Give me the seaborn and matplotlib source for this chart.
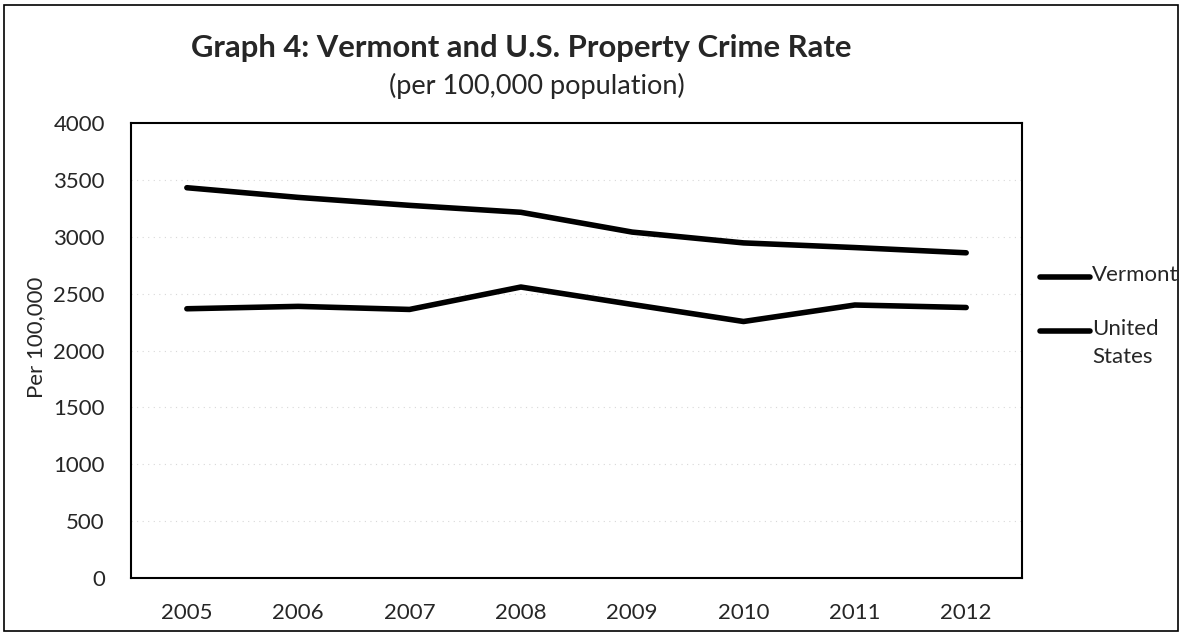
import pandas as pd
import matplotlib.pyplot as plt
import seaborn as sns
from matplotlib.patches import Rectangle

years = [2005, 2006, 2007, 2008, 2009, 2010, 2011, 2012]
vermont = [2367, 2388, 2361, 2558, 2405, 2255, 2400, 2378]
united_states = [3431, 3346, 3276, 3215, 3041, 2946, 2905, 2859]
series_names = ['Vermont', 'United\nStates']

df = pd.DataFrame({
    'year': years * 2,
    'rate': vermont + united_states,
    'series': [series_names[0]] * len(years) + [series_names[1]] * len(years),
})

sns.set_style('white')
plt.rcParams['font.family'] = ['Lato', 'DejaVu Sans']

fig = plt.figure(figsize=(11.82, 6.34), dpi=100)
ax = fig.add_axes([0.111, 0.0883, 0.7535, 0.7177])

# faint scan-like gridlines
for v in range(500, 4000, 500):
    ax.axhline(v, color='#d8d8d8', lw=0.8, ls=(0, (1, 4)), zorder=0)

sns.lineplot(data=df, x='year', y='rate', hue='series', hue_order=series_names,
             palette=['black', 'black'], linewidth=4, ax=ax, legend=False,
             solid_capstyle='round', solid_joinstyle='round')

ax.set_xlim(2004.5, 2012.5)
ax.set_ylim(0, 4000)
ax.set_xticks(years)
ax.set_yticks(range(0, 4001, 500))
ax.tick_params(axis='x', length=0, labelsize=16, pad=18)
ax.tick_params(axis='y', length=0, labelsize=16, pad=19)
ax.set_xlabel('')
ax.set_ylabel('Per 100,000', fontsize=16)
ax.yaxis.set_label_coords(-0.096, 0.53)
for s in ax.spines.values():
    s.set_visible(True)
    s.set_color('black')
    s.set_linewidth(1.5)

# legend, Excel style: handle lines up with the first line of the label
for name, yy in zip(series_names, [0.6615, 0.543]):
    ax.plot([1.020, 1.076], [yy, yy], color='black', lw=4, solid_capstyle='round',
            transform=ax.transAxes, clip_on=False)
    ax.text(1.079, yy + 0.027, name, transform=ax.transAxes, ha='left', va='top',
            fontsize=16, linespacing=1.5)

fig.text(0.441, 0.925, 'Graph 4: Vermont and U.S. Property Crime Rate',
         ha='center', va='center', fontsize=22.3, fontweight='bold')
fig.text(0.454, 0.864, '(per 100,000 population)', ha='center', va='center',
         fontsize=19.5)

fig.patches.append(Rectangle((0.003, 0.004), 0.994, 0.988, transform=fig.transFigure,
                             fill=False, edgecolor='black', lw=1.2))

fig.savefig('out.png', dpi=100)
